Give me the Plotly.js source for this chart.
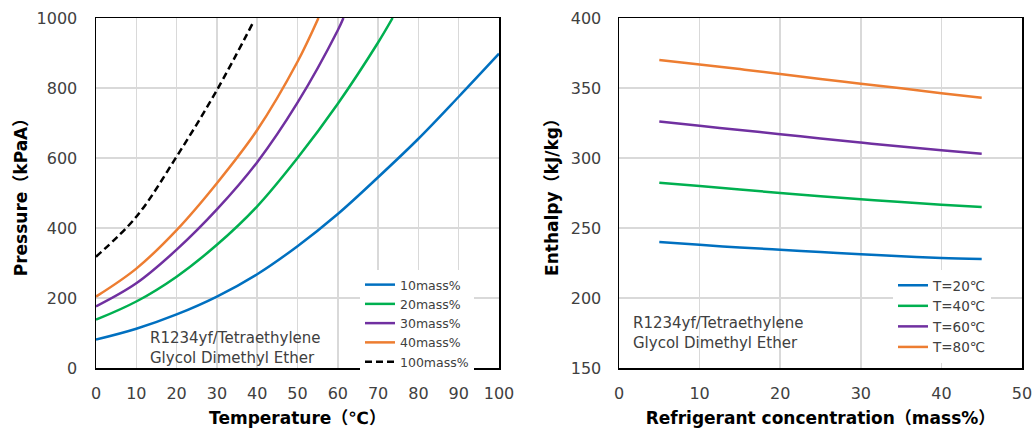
<!DOCTYPE html>
<html>
<head>
<meta charset="utf-8">
<script src="https://cdn.plot.ly/plotly-3.0.1.min.js"></script>
<style>html,body{margin:0;padding:0;background:#fff;}#chart{width:1035px;height:432px;}</style>
</head>
<body>
<div id="chart"></div>
<script>
// Left chart: pressure vs temperature
const tempC = [0, 10, 20, 30, 40, 50, 60, 70];
const p10 = [81, 112, 153, 204, 268, 348, 440, 545];
const temp10Ext = [80, 90, 100];
const p10Ext = [655, 775, 898];
const temp20 = [0, 10, 20, 30, 40, 50, 60, 70, 73.6];
const p20 = [138, 190, 261, 352, 462, 600, 755, 930, 1000];
const temp30 = [0, 10, 20, 30, 40, 50, 60, 61.4];
const p30 = [176, 242, 338, 453, 588, 758, 965, 1000];
const temp40 = [0, 10, 20, 30, 40, 50, 55.2];
const p40 = [204, 284, 394, 528, 680, 875, 1000];
const temp100 = [0, 10, 20, 30, 39.2];
const p100 = [318, 432, 604, 794, 992];
const leftNames = ['10mass%', '20mass%', '30mass%', '40mass%', '100mass%'];

// Right chart: enthalpy vs refrigerant concentration
const conc = [5, 10, 15, 20, 25, 30, 35, 40, 45];
const h20 = [240, 238, 236, 234.5, 232.8, 231.2, 229.8, 228.6, 227.8];
const h40 = [282.3, 280, 277.5, 275, 272.7, 270.5, 268.5, 266.6, 265];
const h60 = [326, 323, 320, 317, 314, 311, 308.2, 305.5, 303];
const h80 = [370, 366.8, 363.5, 360, 356.5, 353, 349.8, 346.3, 343];
const rightNames = ['T=20℃', 'T=40℃', 'T=60℃', 'T=80℃'];

const blue = '#0070C0', green = '#00B050', purple = '#7030A0', orange = '#ED7D31';
const lw = 2.5;

const traces = [
  {x: tempC.concat(temp10Ext), y: p10.concat(p10Ext), name: leftNames[0], line: {color: blue, width: lw, shape: 'spline'}},
  {x: temp20, y: p20, name: leftNames[1], line: {color: green, width: lw, shape: 'spline'}},
  {x: temp30, y: p30, name: leftNames[2], line: {color: purple, width: lw, shape: 'spline'}},
  {x: temp40, y: p40, name: leftNames[3], line: {color: orange, width: lw, shape: 'spline'}},
  {x: temp100, y: p100, name: leftNames[4], line: {color: '#000000', width: lw, dash: '7px,4px', shape: 'spline'}}
].map(t => Object.assign(t, {type: 'scatter', mode: 'lines', xaxis: 'x', yaxis: 'y', legend: 'legend'}));

const traces2 = [
  {y: h20, name: rightNames[0], line: {color: blue, width: lw, shape: 'spline'}},
  {y: h40, name: rightNames[1], line: {color: green, width: lw, shape: 'spline'}},
  {y: h60, name: rightNames[2], line: {color: purple, width: lw, shape: 'spline'}},
  {y: h80, name: rightNames[3], line: {color: orange, width: lw, shape: 'spline'}}
].map(t => Object.assign(t, {type: 'scatter', mode: 'lines', x: conc, xaxis: 'x2', yaxis: 'y2', legend: 'legend2'}));

const tickFont = {family: 'DejaVu Sans, Noto Sans CJK JP, sans-serif', size: 16, color: '#404040'};
const titleFont = {family: 'DejaVu Sans, Noto Sans CJK JP, sans-serif', size: 17, color: '#000000', weight: 'bold'};
const axBase = {
  showline: true, linecolor: '#000000', linewidth: 1.5, mirror: true,
  showgrid: true, gridcolor: '#d9d9d9', gridwidth: 1.5,
  zeroline: false, ticks: '', tickfont: tickFont, fixedrange: true
};

const W = 1035;
const layout = {
  width: 1035, height: 432,
  margin: {l: 0, r: 0, t: 18, b: 64},
  paper_bgcolor: '#ffffff', plot_bgcolor: '#ffffff',
  showlegend: true,
  xaxis: Object.assign({}, axBase, {domain: [96 / W, 499 / W], range: [0, 100], dtick: 10, anchor: 'y', ticklabelstandoff: 10,
    title: {text: 'Temperature（℃）', font: titleFont, standoff: 10}}),
  yaxis: Object.assign({}, axBase, {range: [0, 1000], dtick: 200, anchor: 'x', ticklabelstandoff: 14,
    title: {text: 'Pressure（kPaA）', font: titleFont, standoff: 4}}),
  xaxis2: Object.assign({}, axBase, {domain: [619 / W, 1022 / W], range: [0, 50], dtick: 10, anchor: 'y2', ticklabelstandoff: 10,
    title: {text: 'Refrigerant concentration（mass%）', font: titleFont, standoff: 10}}),
  yaxis2: Object.assign({}, axBase, {range: [150, 400], dtick: 50, anchor: 'x2', ticklabelstandoff: 13,
    title: {text: 'Enthalpy（kJ/kg）', font: titleFont, standoff: 8}}),
  legend: {x: 360 / W, xanchor: 'left', y: 0.28, yanchor: 'top', bgcolor: '#ffffff', borderwidth: 0,
    font: {family: 'DejaVu Sans, sans-serif', size: 12.5, color: '#404040'}, tracegroupgap: 0, itemwidth: 30},
  legend2: {x: 893 / W, xanchor: 'left', y: 0.28, yanchor: 'top', bgcolor: '#ffffff', borderwidth: 0,
    font: {family: 'DejaVu Sans, Noto Sans CJK JP, sans-serif', size: 13.5, color: '#404040'}, tracegroupgap: 0, itemwidth: 30},
  annotations: [
    {xref: 'paper', yref: 'paper', x: 148 / W, y: (368 - 347.5) / 350, xanchor: 'left', yanchor: 'middle', align: 'left',
      showarrow: false, text: 'R1234yf/Tetraethylene<br>Glycol Dimethyl Ether',
      font: {family: 'DejaVu Sans, sans-serif', size: 15, color: '#404040'}},
    {xref: 'paper', yref: 'paper', x: 631 / W, y: (368 - 332.5) / 350, xanchor: 'left', yanchor: 'middle', align: 'left',
      showarrow: false, text: 'R1234yf/Tetraethylene<br>Glycol Dimethyl Ether',
      font: {family: 'DejaVu Sans, sans-serif', size: 15, color: '#404040'}}
  ]
};

Plotly.newPlot('chart', traces.concat(traces2), layout, {displayModeBar: false, staticPlot: true});
</script>
</body>
</html>
